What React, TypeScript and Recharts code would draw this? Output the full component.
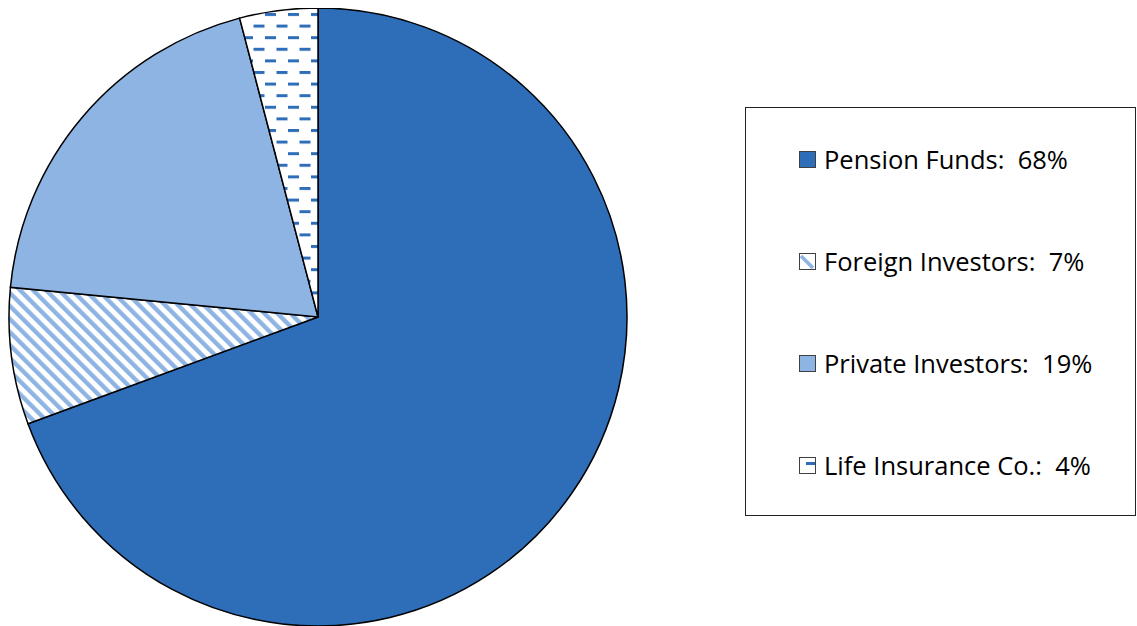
import { PieChart, Pie, Cell, Legend } from 'recharts'

const investorNames = ['Pension Funds', 'Foreign Investors', 'Private Investors', 'Life Insurance Co.']
const sharePercents = [68, 7, 19, 4]

const DARK_BLUE = '#2E6DB8'
const LIGHT_BLUE = '#8EB4E3'

const fills = [DARK_BLUE, 'url(#diagStripes)', LIGHT_BLUE, 'url(#hDashes)']

const data = investorNames.map((name, i) => ({ name, value: sharePercents[i] }))

function LegendIcon({ index }: { index: number }) {
  return (
    <svg width={17} height={17} style={{ display: 'block' }}>
      <rect x={0.5} y={0.5} width={16} height={16} fill={index === 0 ? DARK_BLUE : index === 2 ? LIGHT_BLUE : '#fff'} stroke="#404040" strokeWidth={1} />
      {index === 1 && <line x1={2} y1={3} x2={14} y2={15} stroke={LIGHT_BLUE} strokeWidth={3.5} />}
      {index === 3 && <rect x={7} y={5} width={9} height={3} fill={DARK_BLUE} />}
    </svg>
  )
}

function BoxLegend() {
  return (
    <div
      style={{
        position: 'fixed',
        left: 745,
        top: 107,
        width: 391,
        height: 409,
        border: '1px solid #222',
        boxSizing: 'border-box',
        background: '#fff',
      }}
    >
      {investorNames.map((name, i) => (
        <div
          key={name}
          style={{
            position: 'absolute',
            left: 53,
            top: 52 + i * 102 - 17,
            height: 32,
            display: 'flex',
            alignItems: 'center',
            fontFamily: '"Open Sans", sans-serif',
            fontSize: 25.5,
            color: '#000',
            whiteSpace: 'pre',
          }}
        >
          <LegendIcon index={i} />
          <span style={{ marginLeft: 8 }}>{`${name}:  ${sharePercents[i]}%`}</span>
        </div>
      ))}
    </div>
  )
}

export default function App() {
  return (
    <div style={{ width: 1121, height: 618, position: 'relative' }}>
      <style>{'html { overflow: hidden; }'}</style>
      <PieChart width={1121} height={618} margin={{ top: 0, right: 0, bottom: 0, left: 0 }}>
        <defs>
          <pattern id="diagStripes" patternUnits="userSpaceOnUse" width={9.2} height={9.2} patternTransform="rotate(-45)">
            <rect x={0} y={0} width={9.2} height={9.2} fill="#fff" />
            <rect x={0} y={0} width={4.4} height={9.2} fill={LIGHT_BLUE} />
          </pattern>
          <pattern id="hDashes" patternUnits="userSpaceOnUse" x={4} y={5} width={23} height={23.2}>
            <rect x={0} y={0} width={23} height={23.2} fill="#fff" />
            <rect x={0} y={0} width={11} height={3} fill={DARK_BLUE} />
            <rect x={11.5} y={11.6} width={11} height={3} fill={DARK_BLUE} />
          </pattern>
        </defs>
        <Pie
          data={data}
          dataKey="value"
          nameKey="name"
          cx={310}
          cy={309}
          outerRadius={309}
          startAngle={90}
          endAngle={-270}
          stroke="#000"
          strokeWidth={1.5}
          isAnimationActive={false}
          label={false}
          labelLine={false}
        >
          {data.map((d, i) => (
            <Cell key={d.name} fill={fills[i]} />
          ))}
        </Pie>
        <Legend content={<BoxLegend />} />
      </PieChart>
    </div>
  )
}
